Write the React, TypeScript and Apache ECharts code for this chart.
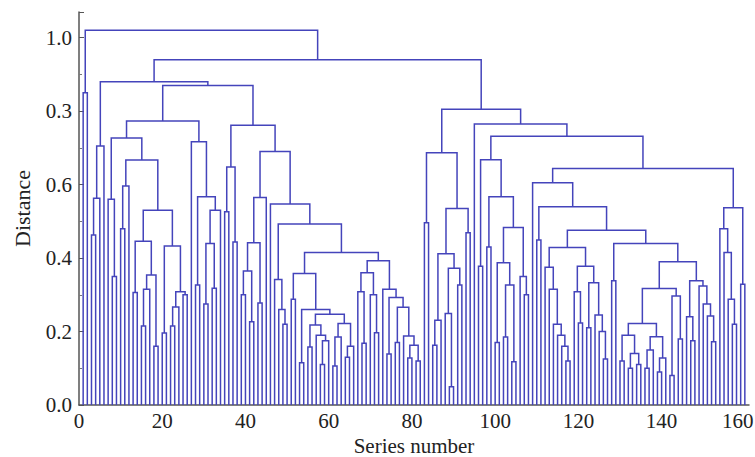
import React, { useEffect, useRef } from "react";
import * as echarts from "echarts";

// Number of series (leaves), numbered 1..160 from left to right
const leafCount = 160;

// Height at which leaf i and leaf i+1 are first joined (i = 1..159)
const mergeGaps = [
  0.85, 1.02, 0.463, 0.563, 0.705, 0.88, 0.56, 0.35, 0.727, 0.48,
  0.596, 0.667, 0.306, 0.446, 0.215, 0.315, 0.354, 0.16, 0.53, 0.196,
  0.433, 0.215, 0.267, 0.308, 0.3, 0.773, 0.717, 0.327, 0.567, 0.275,
  0.44, 0.318, 0.53, 0.87, 0.526, 0.648, 0.444, 0.762, 0.3, 0.365,
  0.227, 0.442, 0.278, 0.565, 0.69, 0.547, 0.342, 0.26, 0.22, 0.493,
  0.288, 0.358, 0.115, 0.26, 0.158, 0.218, 0.19, 0.11, 0.175, 0.247,
  0.106, 0.185, 0.222, 0.13, 0.16, 0.415, 0.308, 0.168, 0.36, 0.3,
  0.197, 0.393, 0.315, 0.139, 0.293, 0.17, 0.266, 0.188, 0.128, 0.163,
  0.12, 0.94, 0.496, 0.687, 0.163, 0.231, 0.412, 0.249, 0.05, 0.372,
  0.327, 0.535, 0.469, 0.805, 0.765, 0.378, 0.668, 0.43, 0.567, 0.17,
  0.387, 0.185, 0.327, 0.118, 0.483, 0.35, 0.3, 0.732, 0.605, 0.449,
  0.54, 0.375, 0.315, 0.22, 0.19, 0.16, 0.12, 0.429, 0.308, 0.223,
  0.378, 0.21, 0.333, 0.245, 0.2, 0.125, 0.476, 0.338, 0.44, 0.12,
  0.19, 0.1, 0.14, 0.11, 0.222, 0.1, 0.15, 0.186, 0.09, 0.128,
  0.317, 0.08, 0.297, 0.18, 0.39, 0.24, 0.175, 0.338, 0.324, 0.275,
  0.242, 0.172, 0.644, 0.48, 0.415, 0.288, 0.22, 0.537, 0.329,
];

// Tick labels as printed in the reference
const yTickValues = [0, 0.2, 0.4, 0.6, 0.8, 1.0];
const yTickLabels = ["0.0", "0.2", "0.4", "0.6", "0.3", "1.0"];
const xTickValues = [0, 20, 40, 60, 80, 100, 120, 140, 160];

type Node = { x: number; h: number };

function buildLinks(gaps: number[], n: number): number[][] {
  const links: number[][] = [];
  const rec = (lo: number, hi: number): Node => {
    if (lo === hi) return { x: lo, h: 0 };
    let k = lo;
    let best = -Infinity;
    for (let i = lo; i < hi; i++) {
      if (gaps[i - 1] > best) {
        best = gaps[i - 1];
        k = i;
      }
    }
    const l = rec(lo, k);
    const r = rec(k + 1, hi);
    links.push([l.x, l.h, r.x, r.h, best]);
    return { x: (l.x + r.x) / 2, h: best };
  };
  rec(1, n);
  return links;
}

export default function App() {
  const ref = useRef<HTMLDivElement>(null);

  useEffect(() => {
    if (!ref.current) return;
    const chart = echarts.init(ref.current, null, { renderer: "svg" });
    const links = buildLinks(mergeGaps, leafCount);
    const serif = "'Liberation Serif', 'Times New Roman', serif";
    const lastTick = xTickValues[xTickValues.length - 1];

    chart.setOption({
      animation: false,
      backgroundColor: "#ffffff",
      grid: {
        left: 79,
        right: 6,
        top: 12,
        bottom: 52,
        containLabel: false,
        outerBoundsMode: "none",
      },
      xAxis: {
        type: "value",
        min: 0,
        max: 161,
        interval: 20,
        name: "Series number",
        nameLocation: "middle",
        nameGap: 24,
        nameTextStyle: { fontFamily: serif, fontSize: 21, color: "#222" },
        axisLine: { show: true, lineStyle: { color: "#555", width: 1.5 } },
        axisTick: { show: false },
        splitLine: { show: false },
        axisLabel: {
          fontFamily: serif,
          fontSize: 21,
          color: "#222",
          margin: 5,
          showMaxLabel: false,
          formatter: (v: number) => {
            if (xTickValues.indexOf(v) < 0) return "";
            return v === lastTick ? "{e|" + v + "}" : String(v);
          },
          rich: {
            e: { fontFamily: serif, fontSize: 21, color: "#222", padding: [0, 14, 0, 0] },
          },
        },
      },
      yAxis: {
        type: "value",
        min: 0,
        max: 1.07,
        interval: 0.2,
        name: "Distance",
        nameLocation: "middle",
        nameRotate: 90,
        nameGap: 46,
        nameTextStyle: { fontFamily: serif, fontSize: 22, color: "#222" },
        axisLine: { show: true, lineStyle: { color: "#555", width: 1.5 } },
        axisTick: { show: true, inside: true, length: 5, lineStyle: { color: "#555" } },
        minorTick: { show: true, splitNumber: 2, length: 3, lineStyle: { color: "#777" } },
        splitLine: { show: false },
        axisLabel: {
          fontFamily: serif,
          fontSize: 21,
          color: "#222",
          margin: 7,
          showMaxLabel: false,
          formatter: (v: number) => {
            const i = yTickValues.findIndex((t) => Math.abs(t - v) < 1e-6);
            return i >= 0 ? yTickLabels[i] : "";
          },
        },
      },
      series: [
        {
          type: "custom",
          data: links,
          encode: { x: [0, 2], y: [1, 3, 4] },
          renderItem: (_params: any, api: any) => {
            const p1 = api.coord([api.value(0), api.value(1)]);
            const p2 = api.coord([api.value(0), api.value(4)]);
            const p3 = api.coord([api.value(2), api.value(4)]);
            const p4 = api.coord([api.value(2), api.value(3)]);
            return {
              type: "polyline",
              shape: { points: [p1, p2, p3, p4] },
              style: { stroke: "#4444bb", lineWidth: 1.5, fill: null },
            };
          },
        },
      ],
    });

    return () => chart.dispose();
  }, []);

  return (
    <div
      ref={ref}
      style={{ position: "fixed", left: 0, top: 0, width: 755, height: 457, background: "#fff" }}
    />
  );
}
